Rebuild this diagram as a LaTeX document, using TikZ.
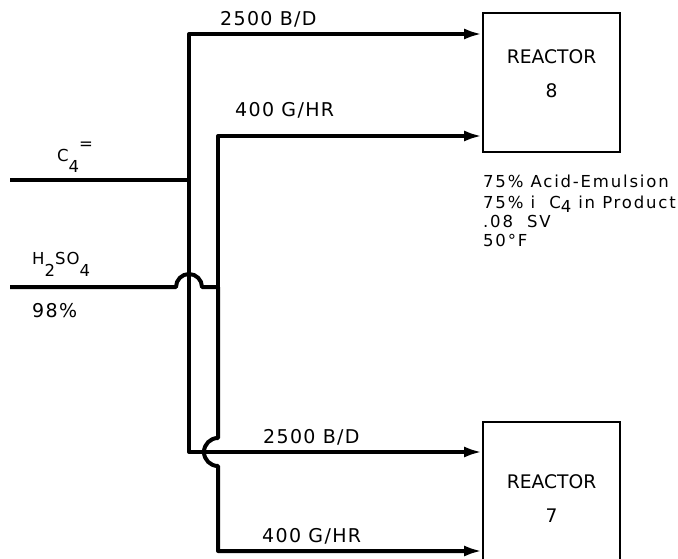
\documentclass[tikz,border=0pt]{standalone}
\usepackage{fontspec}
\setmainfont{DejaVu Sans}
\newfontfamily\labelfont[LetterSpace=7]{DejaVu Sans}
\newfontfamily\notefont[LetterSpace=11]{DejaVu Sans}
\usetikzlibrary{arrows.meta}
\newcommand{\lowidx}[2]{\raisebox{-#1}{#2}}

\tikzset{
  pipe/.style={line width=4pt, line join=round},
  feed/.style={pipe, -{Latex[length=18pt,width=11pt]}},
  reactor/.style={draw, line width=1.8pt, minimum width=137pt, minimum height=139pt, inner sep=0pt},
  flowlabel/.style={anchor=base west, inner sep=0pt, font=\labelfont\fontsize{19}{19}\selectfont},
  streamlabel/.style={anchor=base west, inner sep=0pt, font=\labelfont\fontsize{16.5}{16.5}\selectfont},
  reactortext/.style={anchor=base, inner sep=0pt, font=\fontsize{18.7}{18.7}\selectfont},
  note/.style={anchor=base west, inner sep=0pt, font=\notefont\fontsize{16.5}{16.5}\selectfont}
}

\begin{document}
\begin{tikzpicture}[x=1pt,y=-1pt]
\useasboundingbox (0,0) rectangle (678,559);

% Reactors
\node[reactor] (r8) at (551.5,82.5) {};
\node[reactor] (r7) at (551.5,491.5) {};
\node[reactortext] (r8name) at (551.5,64) {REACTOR};
\node[reactortext] (r8num) at (551.5,98) {8};
\node[reactortext] (r7name) at (551.5,488) {REACTOR};
\node[reactortext] (r7num) at (551.5,522) {7};

% Junctions and corners
\coordinate (c4in) at (10,180);
\coordinate (c4j) at (189,180);
\coordinate (hctop) at (189,34);
\coordinate (hcbot) at (189,452);
\coordinate (acin) at (10,287);
\coordinate (acj) at (218,287);
\coordinate (actop) at (218,136);
\coordinate (acbot) at (218,551);
\coordinate (hop1) at (acin -| c4j);
\coordinate (hop2) at (acj |- hcbot);

% Olefin feed, split to both reactors
\draw[pipe] (c4in) -- (c4j);
\draw[feed] (c4j) |- (hctop -| r8.west);
\draw[feed] (c4j) |- (hcbot -| r7.west);

% Acid feed, hopping over the olefin lines
\draw[pipe] (acin) -- ([xshift=-13pt]hop1) arc[start angle=180, end angle=0, radius=13pt] -- (acj);
\draw[feed] (acj) |- (actop -| r8.west);
\draw[feed] (acj) -- ([yshift=14pt]hop2) arc[start angle=90, end angle=270, radius=14pt]
  -- (acbot) -- (acbot -| r7.west);

% Stream labels
\node[flowlabel] (f8a) at (220,26) {2500 B/D};
\node[flowlabel] (f8b) at (235,117) {400 G/HR};
\node[flowlabel] (f7a) at (263,443) {2500 B/D};
\node[flowlabel] (f7b) at (262,542) {400 G/HR};
\node[streamlabel] (c4name) at (57,162) {C\lowidx{11pt}{4}\raisebox{13pt}{=}};
\node[streamlabel] (acname) at (32,265) {H\lowidx{12pt}{2}SO\lowidx{12pt}{4}};
\node[flowlabel] (acconc) at (32,317) {98\%};

% Reactor 8 conditions
\foreach \yb/\txt [count=\i] in {188/75\% Acid-Emulsion, 208/75\% i\ \ C\lowidx{4.5pt}{4} in Product, 228/.08\ \ SV, 247/50°F}
  \node[note] (cond\i) at (483,\yb) {\txt};
\end{tikzpicture}
\end{document}
